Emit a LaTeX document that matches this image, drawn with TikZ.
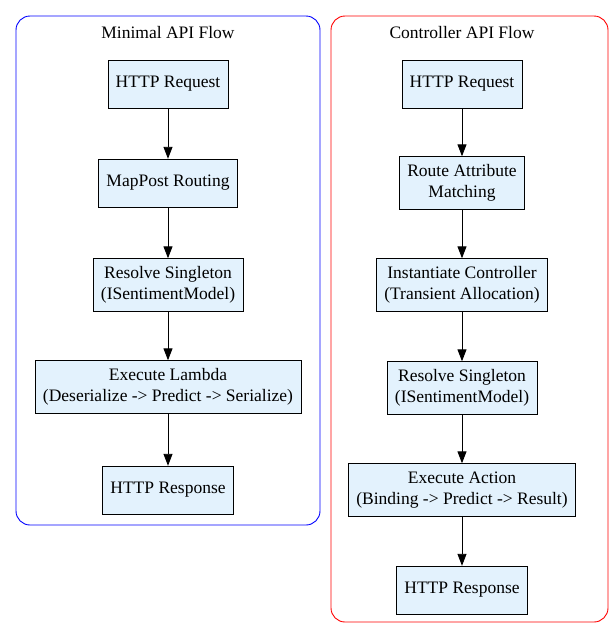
\documentclass[tikz,border=0pt]{standalone}
\usepackage{fontspec}
\setmainfont{Liberation Serif}
\usetikzlibrary{arrows.meta,positioning}
\definecolor{boxfill}{HTML}{E3F2FD}
\tikzset{
    stage/.style={draw=black, fill=boxfill, align=center, inner xsep=8pt,
        minimum height=48pt, font=\fontsize{17.5}{21}\selectfont},
    flow/.style={draw=black, line width=0.9pt, -{Triangle[length=12pt,width=9pt]}},
    cluster/.style={rounded corners=14pt, line width=0.9pt},
    title/.style={font=\fontsize{17.5}{21}\selectfont},
}
\begin{document}
\begin{tikzpicture}[x=1pt,y=-1pt]
    \useasboundingbox (0,0) rectangle (611,641);
    % minimal api cluster
    \draw[cluster, blue] (16,16) rectangle (320,525);
    \node[title] (mtitle) at (168,33) {Minimal API Flow};
    \node[stage] (mreq) at (168,84) {HTTP Request};
    \node[stage] (mroute) at (168,183) {MapPost Routing};
    \node[stage, minimum height=53pt] (mres) at (168,285) {Resolve Singleton\\(ISentimentModel)};
    \node[stage, minimum height=53pt] (mexec) at (168,387) {Execute Lambda\\(Deserialize -> Predict -> Serialize)};
    \node[stage] (mresp) at (168,490) {HTTP Response};
    \draw[flow] (mreq) -- (mroute);
    \draw[flow] (mroute) -- (mres);
    \draw[flow] (mres) -- (mexec);
    \draw[flow] (mexec) -- (mresp);
    % controller api cluster
    \draw[cluster, red] (331,16) rectangle (608,622);
    \node[title] (ctitle) at (462,33) {Controller API Flow};
    \node[stage] (creq) at (462,84) {HTTP Request};
    \node[stage, minimum height=53pt] (croute) at (462,183) {Route Attribute\\Matching};
    \node[stage, minimum height=53pt] (cinst) at (462,285) {Instantiate Controller\\(Transient Allocation)};
    \node[stage, minimum height=53pt] (cres) at (462,388) {Resolve Singleton\\(ISentimentModel)};
    \node[stage, minimum height=53pt] (cexec) at (462,490) {Execute Action\\(Binding -> Predict -> Result)};
    \node[stage] (cresp) at (462,590) {HTTP Response};
    \draw[flow] (creq) -- (croute);
    \draw[flow] (croute) -- (cinst);
    \draw[flow] (cinst) -- (cres);
    \draw[flow] (cres) -- (cexec);
    \draw[flow] (cexec) -- (cresp);
\end{tikzpicture}
\end{document}
